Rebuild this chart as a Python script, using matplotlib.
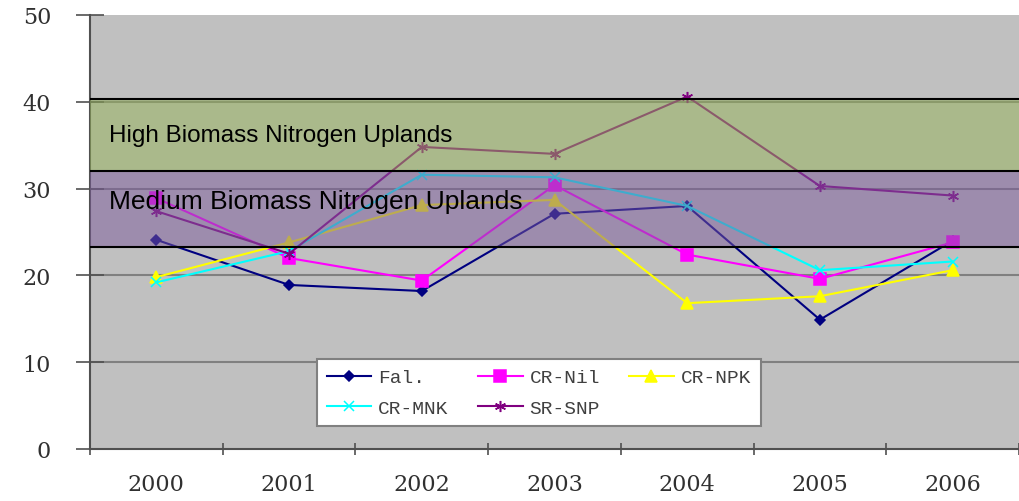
import matplotlib
matplotlib.use("Agg")
import matplotlib.pyplot as plt
import numpy as np

years = ["2000", "2001", "2002", "2003", "2004", "2005", "2006"]
fal = [24.1, 18.9, 18.2, 27.1, 28.0, 14.9, 24.0]
cr_nil = [28.9, 22.0, 19.4, 30.4, 22.4, 19.6, 23.8]
cr_npk = [19.8, 23.8, 28.1, 28.7, 16.8, 17.6, 20.6]
cr_mnk = [19.2, 22.8, 31.6, 31.3, 28.0, 20.6, 21.6]
sr_snp = [27.4, 22.5, 34.8, 34.0, 40.6, 30.3, 29.2]

high_band = (32.0, 40.3)
medium_band = (23.3, 32.0)
y_ticks = [0, 10, 20, 30, 40, 50]

W, H = 1019, 502
fig = plt.figure(figsize=(W / 100, H / 100), dpi=100)
ax = fig.add_axes([90 / W, 1 - 450 / H, 929 / W, (450 - 16) / H])
ax.set_facecolor("#C0C0C0")

x = np.arange(len(years))
series = [
    ("Fal.", fal, "#000080", "D", 5),
    ("CR-Nil", cr_nil, "#FF00FF", "s", 8),
    ("CR-NPK", cr_npk, "#FFFF00", "^", 8),
    ("CR-MNK", cr_mnk, "#00FFFF", "x", 7),
    ("SR-SNP", sr_snp, "#800080", (6, 2, 0), 8),
]
handles = {}
for name, vals, col, mk, ms in series:
    h, = ax.plot(x, vals, color=col, lw=1.5, marker=mk, markersize=ms,
                 markerfacecolor=col, markeredgecolor=col, markeredgewidth=1.1,
                 label=name, zorder=3)
    handles[name] = h

for yy in y_ticks[1:-1]:
    ax.axhline(yy, color="#808080", lw=1.5, zorder=1)

ax.axhspan(*high_band, facecolor="#96B458", alpha=0.5, zorder=4, lw=0)
ax.axhspan(*medium_band, facecolor="#7C5A9C", alpha=0.5, zorder=4, lw=0)
for yy in sorted(set(high_band + medium_band)):
    ax.axhline(yy, color="black", lw=1.5, zorder=5)

ax.text(-0.36, 36.2, "High Biomass Nitrogen Uplands", fontsize=17.5,
        family="Liberation Sans", va="center", ha="left", zorder=6)
ax.text(-0.36, 28.6, "Medium Biomass Nitrogen Uplands", fontsize=19,
        family="Liberation Sans", va="center", ha="left", zorder=6)

ax.set_xlim(-0.5, len(years) - 0.5)
ax.set_ylim(0, 50)
ax.set_yticks(y_ticks)
ax.set_yticklabels([str(t) for t in y_ticks], family="DejaVu Serif",
                   fontsize=16, color="#303030")
ax.tick_params(axis="y", direction="inout", length=20, width=1.2,
               color="#505050", pad=18)
ax.set_xticks(np.arange(len(years) + 1) - 0.5)
ax.set_xticklabels([])
ax.set_xticks(x, minor=True)
ax.set_xticklabels(years, minor=True, family="DejaVu Serif", fontsize=16,
                   color="#303030")
ax.tick_params(axis="x", which="major", direction="inout", length=8,
               width=1.2, color="#505050")
ax.tick_params(axis="x", which="minor", length=0, pad=17)

for s in ["top", "right"]:
    ax.spines[s].set_visible(False)
for s in ["left", "bottom"]:
    ax.spines[s].set_color("#505050")
    ax.spines[s].set_linewidth(1.5)

order = ["Fal.", "CR-MNK", "CR-Nil", "SR-SNP", "CR-NPK"]
leg = ax.legend(handles=[handles[n] for n in order], labels=order, ncol=3,
                loc="upper left",
                bbox_to_anchor=(317 / W, 1 - 360 / H),
                bbox_transform=fig.transFigure,
                prop={"family": "Liberation Mono", "size": 14},
                frameon=True, fancybox=False, edgecolor="#808080",
                facecolor="white", framealpha=1, handlelength=2.3,
                handletextpad=0.35, columnspacing=1.5, borderpad=0.5,
                labelspacing=0.65, borderaxespad=0)
leg.get_frame().set_linewidth(1.5)
leg.set_zorder(10)
for t in leg.get_texts():
    t.set_color("#404040")

fig.savefig("out.png", dpi=100)
